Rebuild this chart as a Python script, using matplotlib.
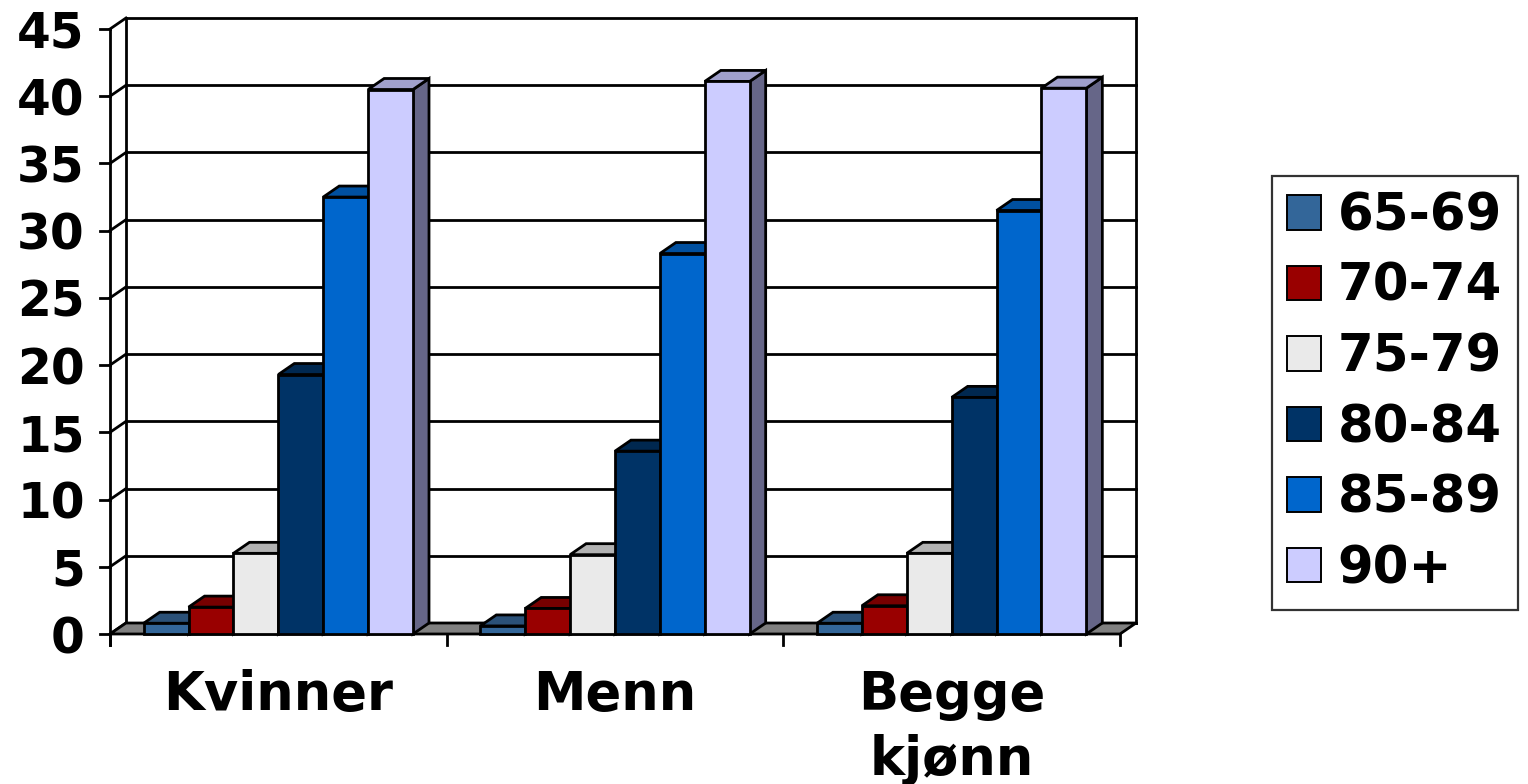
import matplotlib.pyplot as plt
from matplotlib.patches import Polygon, Rectangle, Patch

# Data
categories = ['Kvinner', 'Menn', 'Begge\nkjønn']
age_groups = ['65-69', '70-74', '75-79', '80-84', '85-89', '90+']
kvinner = [0.8, 2.0, 6.0, 19.3, 32.5, 40.5]
menn = [0.6, 1.9, 5.9, 13.6, 28.3, 41.1]
begge = [0.8, 2.1, 6.0, 17.6, 31.5, 40.6]
y_ticks = list(range(0, 50, 5))

front_colors = ['#336699', '#990000', '#eaeaea', '#003366', '#0066cc', '#ccccff']
top_colors = ['#2b5178', '#770000', '#b2b2b2', '#002850', '#0050a0', '#a0a0cc']
side_colors = ['#203d5c', '#5c0000', '#8c8c8c', '#001e3c', '#003d7a', '#666688']

plt.rcParams['font.family'] = 'DejaVu Sans'
plt.rcParams['font.weight'] = 'bold'

W, H = 1528, 784
fig = plt.figure(figsize=(W / 100, H / 100), dpi=100)
ax = fig.add_axes([110 / W, 150 / H, 1010 / W, 605 / H])
ax.set_xlim(-0.5, 2.5)
ax.set_ylim(0, 45)
ax.axis('off')

# depth of the pseudo 3D look, in data units
DX = 16 / 1010 * 3
DY = 11 / 605 * 45
LW = 2.0
x0, x1 = -0.5, 2.5

# back wall, gridlines and side wall
for v in y_ticks:
    ax.plot([x0 + DX, x1 + DX], [v + DY, v + DY], color='black', lw=LW, clip_on=False, zorder=1)
    ax.plot([x0, x0 + DX], [v, v + DY], color='black', lw=LW, clip_on=False, zorder=1)
    ax.plot([x0 - 0.03, x0], [v, v], color='black', lw=LW, clip_on=False, zorder=1)
    ax.text(x0 - 0.075, v, str(v), ha='right', va='center_baseline', fontsize=35,
            fontweight='bold', clip_on=False)
ax.plot([x0 + DX, x0 + DX], [DY, 45 + DY], color='black', lw=LW, clip_on=False, zorder=1)
ax.plot([x1 + DX, x1 + DX], [DY, 45 + DY], color='black', lw=LW, clip_on=False, zorder=1)
ax.plot([x0, x0], [-0.85, 45], color='black', lw=LW, clip_on=False, zorder=1)

# floor
ax.add_patch(Polygon([(x0, 0), (x1, 0), (x1 + DX, DY), (x0 + DX, DY)], closed=True,
                     facecolor='#808080', edgecolor='black', lw=LW, clip_on=False, zorder=2))
for i in range(len(categories) + 1):
    ax.plot([x0 + i, x0 + i], [0, -0.85], color='black', lw=LW, clip_on=False, zorder=2)

# bars: side, top, then front face
series = [kvinner, menn, begge]
bw = 0.8 / len(age_groups)
for ci, vals in enumerate(series):
    for j, h in enumerate(vals):
        x = ci - 0.4 + j * bw
        ax.add_patch(Polygon([(x + bw, 0), (x + bw + DX, DY), (x + bw + DX, h + DY), (x + bw, h)],
                             closed=True, facecolor=side_colors[j], edgecolor='black', lw=LW,
                             clip_on=False, zorder=3))
        ax.add_patch(Polygon([(x, h), (x + bw, h), (x + bw + DX, h + DY), (x + DX, h + DY)],
                             closed=True, facecolor=top_colors[j], edgecolor='black', lw=LW,
                             clip_on=False, zorder=3))
        ax.add_patch(Rectangle((x, 0), bw, h, facecolor=front_colors[j], edgecolor='black',
                               lw=LW, clip_on=False, zorder=3))

# category labels
for ci, name in enumerate(categories):
    ax.text(ci, -2.6, name, ha='center', va='top', fontsize=38, fontweight='bold',
            linespacing=1.33, clip_on=False)

# legend
handles = [Patch(facecolor=c, edgecolor='black', lw=1.4) for c in front_colors]
leg = fig.legend(handles, age_groups, loc='upper left', bbox_to_anchor=(1272 / W, 1 - 176 / H),
                 prop={'weight': 'bold', 'size': 37}, frameon=True, fancybox=False,
                 edgecolor='black', borderaxespad=0, borderpad=0.3, handlelength=0.65,
                 handleheight=0.65, handletextpad=0.33, labelspacing=0.4)
leg.get_frame().set_linewidth(1.6)

fig.savefig('out.png', dpi=100)
